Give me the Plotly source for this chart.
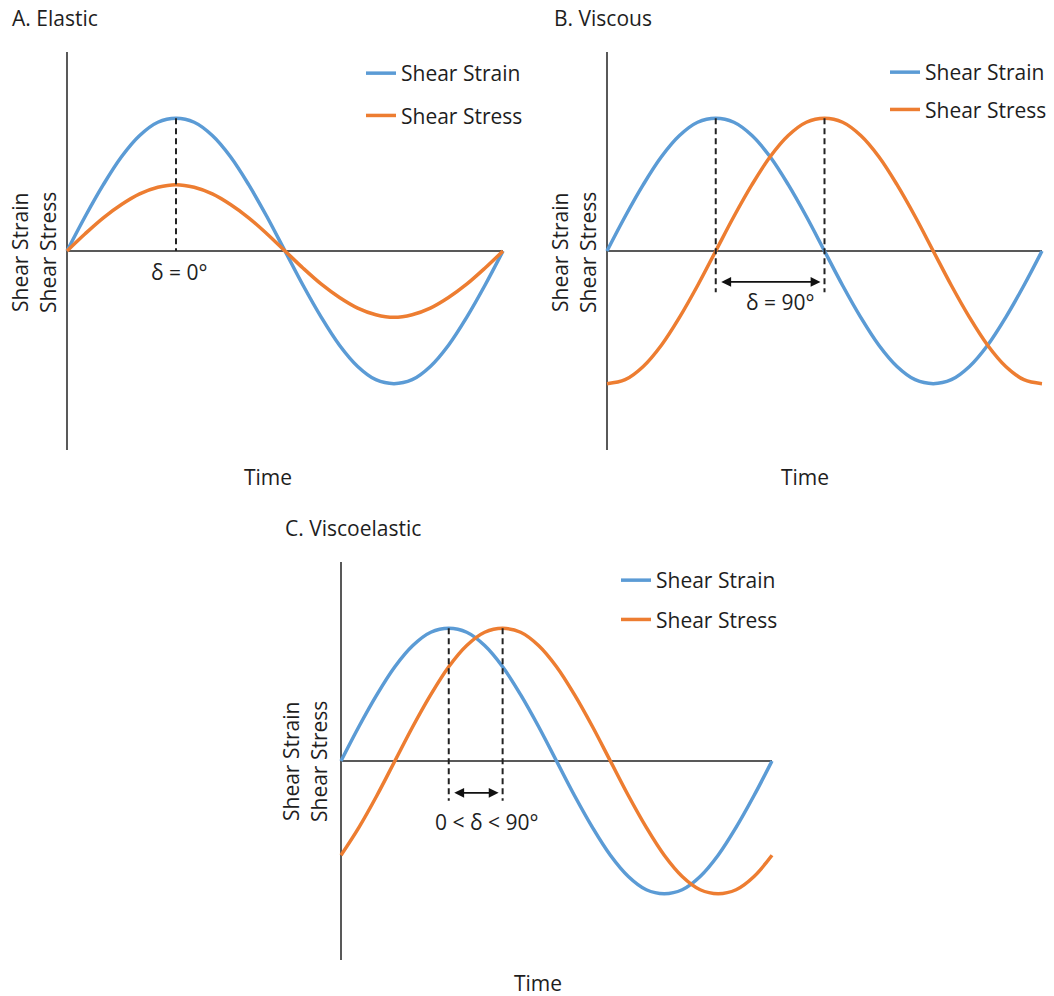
import plotly.graph_objects as go

# ---------------- data ----------------
time_deg = [0, 15, 30, 45, 60, 75, 90, 105, 120, 135, 150, 165, 180,
            195, 210, 225, 240, 255, 270, 285, 300, 315, 330, 345, 360]

a_strain = [0, 0.26, 0.5, 0.71, 0.87, 0.97, 1.0, 0.97, 0.87, 0.71, 0.5, 0.26, 0,
            -0.26, -0.5, -0.71, -0.87, -0.97, -1.0, -0.97, -0.87, -0.71, -0.5, -0.26, 0]
a_stress = [0, 0.13, 0.25, 0.35, 0.43, 0.48, 0.5, 0.48, 0.43, 0.35, 0.25, 0.13, 0,
            -0.13, -0.25, -0.35, -0.43, -0.48, -0.5, -0.48, -0.43, -0.35, -0.25, -0.13, 0]

b_strain = [0, 0.26, 0.5, 0.71, 0.87, 0.97, 1.0, 0.97, 0.87, 0.71, 0.5, 0.26, 0,
            -0.26, -0.5, -0.71, -0.87, -0.97, -1.0, -0.97, -0.87, -0.71, -0.5, -0.26, 0]
b_stress = [-1.0, -0.97, -0.87, -0.71, -0.5, -0.26, 0, 0.26, 0.5, 0.71, 0.87, 0.97, 1.0,
            0.97, 0.87, 0.71, 0.5, 0.26, 0, -0.26, -0.5, -0.71, -0.87, -0.97, -1.0]

c_strain = [0, 0.26, 0.5, 0.71, 0.87, 0.97, 1.0, 0.97, 0.87, 0.71, 0.5, 0.26, 0,
            -0.26, -0.5, -0.71, -0.87, -0.97, -1.0, -0.97, -0.87, -0.71, -0.5, -0.26, 0]
c_stress = [-0.71, -0.5, -0.26, 0, 0.26, 0.5, 0.71, 0.87, 0.97, 1.0, 0.97, 0.87, 0.71,
            0.5, 0.26, 0, -0.26, -0.5, -0.71, -0.87, -0.97, -1.0, -0.97, -0.87, -0.71]

series_names = ["Shear Strain", "Shear Stress"]
panel_titles = ["A. Elastic", "B. Viscous", "C. Viscoelastic"]
delta_labels = ["δ = 0°", "δ = 90°", "0 < δ < 90°"]
phase_marks = [[90], [90, 180], [90, 135]]
x_label = "Time"
y_labels = ["Shear Strain", "Shear Stress"]

# ---------------- styling / layout ----------------
FW, FH = 1054, 996
BLUE = "#5B9BD5"
ORANGE = "#ED7D31"
AXIS = "#595959"
TXT = "#1e1e1e"
FONT = "Open Sans"
FS = 21
PPU = 132.7  # pixels per amplitude unit
XPAD = 4
YR = 1.56


def px_x(px):
    return px / FW


def px_y(py):
    return 1 - py / FH


panels = [
    dict(x0=67, x1=503, zero=251, strain=a_strain, stress=a_stress,
         title_xy=(10, 18), time_xy=(268, 477), ylab_x=(20, 48), ylab_y=253,
         legend=dict(x=361, y=53, gap=12), delta_xy=(93, -0.158),
         dash_bottom=[0], arrow=None),
    dict(x0=607, x1=1042, zero=251, strain=b_strain, stress=b_stress,
         title_xy=(552, 18), time_xy=(805, 477), ylab_x=(560, 588), ylab_y=253,
         legend=dict(x=885, y=52, gap=7), delta_xy=(144, -0.384),
         dash_bottom=[-0.31, -0.31], arrow=-0.233),
    dict(x0=341, x1=772, zero=761, strain=c_strain, stress=c_stress,
         title_xy=(283, 528), time_xy=(538, 983), ylab_x=(291, 319), ylab_y=762,
         legend=dict(x=616, y=560, gap=9), delta_xy=(121.5, -0.46),
         dash_bottom=[-0.30, -0.30], arrow=-0.24),
]

fig = go.Figure()
shapes, annotations = [], []
layout = {}

for i, p in enumerate(panels):
    n = "" if i == 0 else str(i + 1)
    xa, ya = "x" + n, "y" + n
    leg = "legend" + n
    pxdeg = (p["x1"] - p["x0"]) / 360.0
    left = p["x0"] - XPAD * pxdeg
    right = p["x1"] + XPAD * pxdeg
    top = p["zero"] - YR * PPU
    bottom = p["zero"] + YR * PPU
    layout["xaxis" + n] = dict(domain=[px_x(left), px_x(right)], range=[-XPAD, 360 + XPAD],
                               anchor=ya, visible=False, fixedrange=True)
    layout["yaxis" + n] = dict(domain=[px_y(bottom), px_y(top)], range=[-YR, YR],
                               anchor=xa, visible=False, fixedrange=True)

    # axis lines
    shapes.append(dict(type="line", xref=xa, yref=ya, x0=0, x1=0, y0=-1.5, y1=1.5,
                       line=dict(color=AXIS, width=2), layer="below"))
    shapes.append(dict(type="line", xref=xa, yref=ya, x0=0, x1=360, y0=0, y1=0,
                       line=dict(color=AXIS, width=2), layer="below"))

    for name, vals, col in [(series_names[0], p["strain"], BLUE),
                            (series_names[1], p["stress"], ORANGE)]:
        fig.add_trace(go.Scatter(x=time_deg, y=vals, mode="lines", name=name,
                                 line=dict(color=col, width=3.5, shape="spline"),
                                 xaxis=xa, yaxis=ya, legend=leg,
                                 legendgroup=name + n, hoverinfo="skip"))

    lg = p["legend"]
    layout[leg] = dict(x=px_x(lg["x"]), y=px_y(lg["y"]), xanchor="left", yanchor="top",
                       bgcolor="rgba(0,0,0,0)", borderwidth=0, tracegroupgap=lg["gap"],
                       font=dict(family=FONT, size=FS, color=TXT), itemwidth=30)

    # dashed phase markers
    for xm, yb in zip(phase_marks[i], p["dash_bottom"]):
        shapes.append(dict(type="line", xref=xa, yref=ya, x0=xm, x1=xm, y0=1.0, y1=yb,
                           line=dict(color="#222222", width=2, dash="6px,4px")))

    if p["arrow"] is not None:
        xs = phase_marks[i]
        annotations.append(dict(xref=xa, yref=ya, axref=xa, ayref=ya,
                                x=xs[1], y=p["arrow"], ax=xs[0], ay=p["arrow"],
                                text="", showarrow=True, arrowside="end+start",
                                arrowhead=2, arrowsize=1.1, arrowwidth=1.8,
                                arrowcolor="#111111", standoff=4, startstandoff=4))

    annotations.append(dict(xref=xa, yref=ya, x=p["delta_xy"][0], y=p["delta_xy"][1],
                            text=delta_labels[i], showarrow=False,
                            xanchor="center", yanchor="middle",
                            font=dict(family=FONT, size=FS, color=TXT)))

    # titles and axis labels
    annotations.append(dict(xref="paper", yref="paper", x=px_x(p["title_xy"][0]),
                            y=px_y(p["title_xy"][1]), text=panel_titles[i],
                            showarrow=False, xanchor="left", yanchor="middle",
                            font=dict(family=FONT, size=FS, color=TXT)))
    annotations.append(dict(xref="paper", yref="paper", x=px_x(p["time_xy"][0]),
                            y=px_y(p["time_xy"][1]), text=x_label,
                            showarrow=False, xanchor="center", yanchor="middle",
                            font=dict(family=FONT, size=FS, color=TXT)))
    for lab, lx in zip(y_labels, p["ylab_x"]):
        annotations.append(dict(xref="paper", yref="paper", x=px_x(lx),
                                y=px_y(p["ylab_y"]), text=lab, textangle=-90,
                                showarrow=False, xanchor="center", yanchor="middle",
                                font=dict(family=FONT, size=FS, color=TXT)))

fig.update_layout(width=FW, height=FH, autosize=False,
                  margin=dict(l=0, r=0, t=0, b=0),
                  paper_bgcolor="white", plot_bgcolor="white",
                  shapes=shapes, annotations=annotations, showlegend=True,
                  hovermode=False, **layout)

fig.write_html("out.html",
               config={"displayModeBar": False, "staticPlot": True},
               post_script="document.body.style.margin='0px';"
                           "document.body.style.overflow='hidden';")
